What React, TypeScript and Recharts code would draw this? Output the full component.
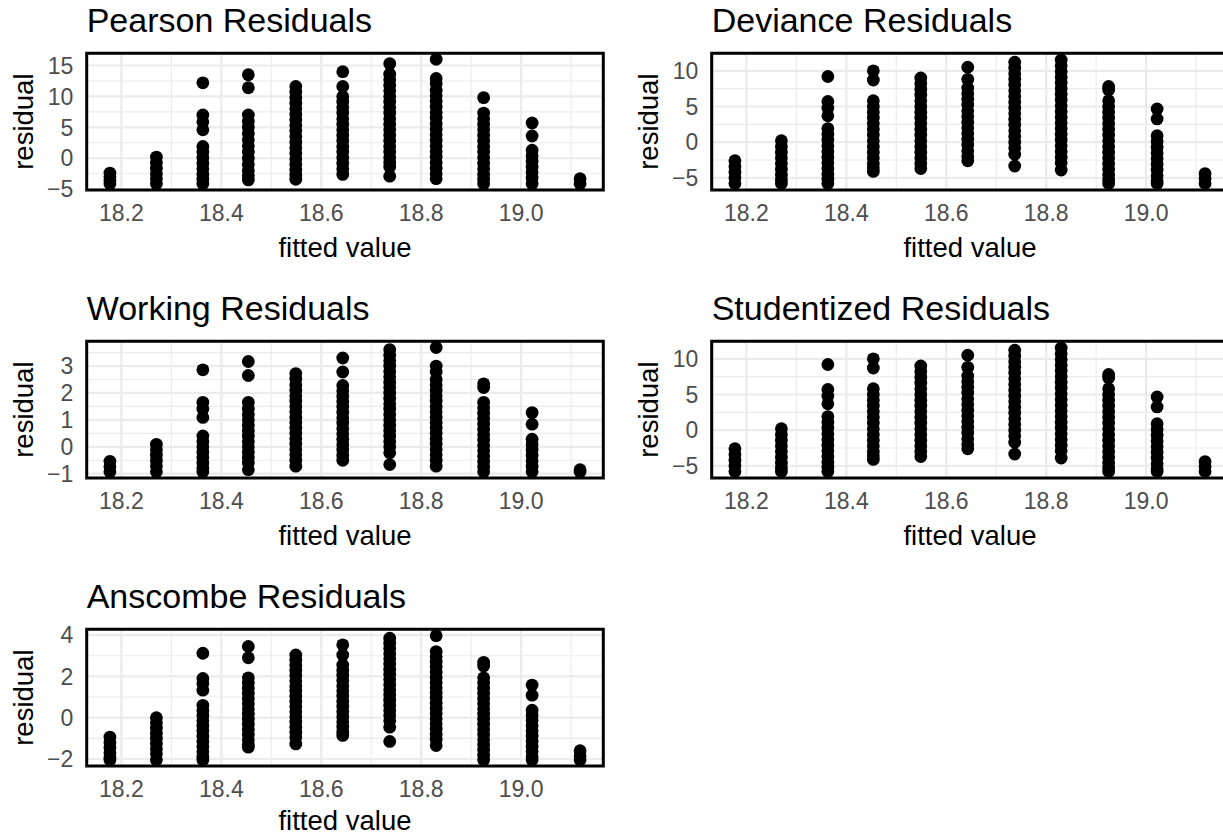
import React from 'react';
import { ScatterChart, Scatter, XAxis, YAxis, CartesianGrid, ReferenceLine, ReferenceArea } from 'recharts';

// fitted values (one column of points per value)
const fitted = [18.177, 18.27, 18.363, 18.454, 18.549, 18.643, 18.737, 18.83, 18.925, 19.022, 19.118];
const xTicks = [18.2, 18.4, 18.6, 18.8, 19.0];
const xMinor = [18.3, 18.5, 18.7, 18.9, 19.1];

// residuals per fitted-value column
const pearson: number[][] = [
  [-2.4, -3.0, -3.6, -4.1],
  [0.2, -0.7, -1.6, -2.5, -3.3, -4.1],
  [12.2, 7.0, 5.9, 4.6, 1.9, 1.0, 0.1, -0.8, -1.7, -2.6, -3.4, -4.1],
  [13.5, 11.4, 7.0, 6.0, 5.0, 4.0, 3.0, 2.0, 1.0, 0.0, -1.0, -2.0, -2.8, -3.5],
  [11.6, 10.7, 9.8, 8.9, 8.0, 7.1, 6.2, 5.3, 4.4, 3.5, 2.6, 1.7, 0.8, -0.1, -1.0, -1.9, -2.7, -3.4],
  [14.0, 11.6, 10.0, 9.1, 8.2, 7.3, 6.4, 5.5, 4.6, 3.7, 2.8, 1.9, 1.0, 0.1, -0.8, -1.7, -2.6],
  [15.3, 13.6, 12.7, 11.8, 10.9, 10.0, 9.1, 8.2, 7.3, 6.4, 5.5, 4.6, 3.7, 2.8, 1.9, 1.0, 0.1, -0.7, -1.4, -2.9],
  [16.0, 12.9, 12.1, 11.0, 10.1, 9.2, 8.3, 7.4, 6.5, 5.6, 4.7, 3.8, 2.9, 2.0, 1.1, 0.2, -0.7, -1.6, -2.5, -3.3],
  [9.8, 7.3, 6.4, 5.5, 4.6, 3.7, 2.8, 1.9, 1.0, 0.1, -0.8, -1.7, -2.6, -3.4, -4.1],
  [5.7, 3.6, 1.3, 0.4, -0.5, -1.4, -2.3, -3.2, -4.1],
  [-3.3, -4.1],
];

const deviance: number[][] = [
  [-2.6, -3.4, -4.2, -5.0, -5.8],
  [0.2, -0.6, -1.4, -2.2, -3.0, -3.8, -4.6, -5.3, -5.8],
  [9.2, 5.7, 4.8, 3.7, 1.9, 1.1, 0.3, -0.5, -1.3, -2.1, -2.9, -3.7, -4.5, -5.2, -5.8],
  [10.0, 8.7, 5.8, 5.0, 4.2, 3.4, 2.6, 1.8, 1.0, 0.2, -0.6, -1.4, -2.2, -3.0, -3.6, -4.1],
  [9.0, 8.2, 7.4, 6.6, 5.8, 5.0, 4.2, 3.4, 2.6, 1.8, 1.0, 0.2, -0.6, -1.4, -2.2, -3.0, -3.7],
  [10.5, 8.8, 7.6, 6.8, 6.0, 5.2, 4.4, 3.6, 2.8, 2.0, 1.2, 0.4, -0.4, -1.2, -2.0, -2.6],
  [11.2, 10.4, 9.6, 8.8, 8.0, 7.2, 6.4, 5.6, 4.8, 4.0, 3.2, 2.4, 1.6, 0.8, 0.0, -0.8, -1.7, -3.35],
  [11.5, 10.7, 9.9, 9.1, 8.3, 7.5, 6.7, 5.9, 5.1, 4.3, 3.5, 2.7, 1.9, 1.1, 0.3, -0.5, -1.3, -2.1, -2.9, -3.9],
  [7.8, 7.3, 5.8, 5.0, 4.2, 3.4, 2.6, 1.8, 1.0, 0.2, -0.6, -1.4, -2.2, -3.0, -3.8, -4.6, -5.3, -5.8],
  [4.65, 3.26, 0.9, 0.1, -0.7, -1.5, -2.3, -3.1, -3.9, -4.7, -5.4, -5.8],
  [-4.4, -5.1, -5.8],
];

const working: number[][] = [
  [-0.54, -0.74, -0.93],
  [0.09, -0.11, -0.31, -0.51, -0.71, -0.93],
  [2.86, 1.65, 1.4, 1.09, 0.4, 0.2, 0.0, -0.2, -0.4, -0.6, -0.8, -0.93],
  [3.17, 2.65, 1.65, 1.4, 1.2, 1.0, 0.8, 0.6, 0.4, 0.2, 0.0, -0.2, -0.4, -0.6, -0.85],
  [2.72, 2.52, 2.3, 2.1, 1.9, 1.7, 1.5, 1.3, 1.1, 0.9, 0.7, 0.5, 0.3, 0.1, -0.1, -0.3, -0.5, -0.72],
  [3.3, 2.78, 2.28, 2.08, 1.88, 1.68, 1.48, 1.28, 1.08, 0.88, 0.68, 0.48, 0.28, 0.08, -0.12, -0.32, -0.5],
  [3.61, 3.4, 3.2, 3.0, 2.8, 2.6, 2.4, 2.2, 2.0, 1.8, 1.6, 1.4, 1.2, 1.0, 0.8, 0.6, 0.4, 0.2, 0.0, -0.22, -0.66],
  [3.69, 3.0, 2.78, 2.5, 2.3, 2.1, 1.9, 1.7, 1.5, 1.3, 1.1, 0.9, 0.7, 0.5, 0.3, 0.1, -0.1, -0.3, -0.5, -0.72],
  [2.34, 2.2, 1.65, 1.45, 1.25, 1.05, 0.85, 0.65, 0.45, 0.25, 0.05, -0.15, -0.35, -0.55, -0.75, -0.93],
  [1.27, 0.84, 0.28, 0.08, -0.12, -0.32, -0.52, -0.72, -0.93],
  [-0.85, -0.93],
];

// studentized panel reads the same as the deviance one
const studentized: number[][] = deviance;

const anscombe: number[][] = [
  [-0.94, -1.2, -1.45, -1.7, -1.95, -2.04],
  [0.0, -0.25, -0.5, -0.75, -1.0, -1.25, -1.5, -1.75, -2.04],
  [3.12, 1.9, 1.66, 1.33, 0.6, 0.35, 0.1, -0.15, -0.4, -0.65, -0.9, -1.15, -1.4, -1.65, -1.9, -2.04],
  [3.45, 2.9, 1.93, 1.68, 1.43, 1.18, 0.93, 0.68, 0.43, 0.18, -0.07, -0.32, -0.57, -0.82, -1.07, -1.3, -1.43],
  [3.04, 2.79, 2.54, 2.29, 2.04, 1.79, 1.54, 1.29, 1.04, 0.79, 0.54, 0.29, 0.04, -0.21, -0.46, -0.71, -0.96, -1.27],
  [3.53, 3.04, 2.55, 2.3, 2.05, 1.8, 1.55, 1.3, 1.05, 0.8, 0.55, 0.3, 0.05, -0.2, -0.45, -0.7, -0.86],
  [3.85, 3.6, 3.35, 3.1, 2.85, 2.6, 2.35, 2.1, 1.85, 1.6, 1.35, 1.1, 0.85, 0.6, 0.35, 0.1, -0.15, -0.46, -1.15],
  [3.97, 3.2, 2.95, 2.7, 2.45, 2.2, 1.95, 1.7, 1.45, 1.2, 0.95, 0.7, 0.45, 0.2, -0.05, -0.3, -0.55, -0.8, -1.05, -1.35],
  [2.68, 2.5, 1.93, 1.68, 1.43, 1.18, 0.93, 0.68, 0.43, 0.18, -0.07, -0.32, -0.57, -0.82, -1.07, -1.32, -1.57, -1.82, -2.04],
  [1.58, 1.09, 0.36, 0.11, -0.14, -0.39, -0.64, -0.89, -1.14, -1.39, -1.64, -1.89, -2.04],
  [-1.6, -1.85, -2.04],
];

const FONT = '"Liberation Sans", Arial, Helvetica, sans-serif';
const CELL_W = 625;
const CELL_H = 288;

// ggplot default 5% expansion around the fitted range
const xDomain: [number, number] = [18.1305, 19.1645];

const fmtY = (v: number) => (v < 0 ? '\u2212' + Math.abs(v) : String(v));

interface PanelProps {
  title: string;
  cols: number[][];
  yDomain: [number, number];
  yTicks: number[];
  yMinor: number[];
  col: number;
  row: number;
  labelLift?: number;
}

const Panel: React.FC<PanelProps> = ({ title, cols, yDomain, yTicks, yMinor, col, row, labelLift = 0 }) => {
  const points = cols.flatMap((ys, i) => ys.map((y) => ({ x: fitted[i], y })));
  return (
    <div style={{ position: 'absolute', left: col * CELL_W, top: row * CELL_H, width: CELL_W, height: CELL_H }}>
      <svg width={CELL_W} height={50} style={{ position: 'absolute', left: 0, top: 0 }}>
        <text x={86.7} y={32} fontSize={34} fill="#000" fontFamily={FONT}>
          {title}
        </text>
      </svg>
      <ScatterChart width={CELL_W} height={CELL_H} margin={{ top: 53.3, right: 21.7, bottom: 31.5, left: 0 }}>
        <CartesianGrid stroke="#ebebeb" strokeWidth={2.2} />
        {xMinor.map((v) => (
          <ReferenceLine key={'x' + v} x={v} stroke="#ebebeb" strokeWidth={1.1} zIndex={-50} />
        ))}
        {yMinor.map((v) => (
          <ReferenceLine key={'y' + v} y={v} stroke="#ebebeb" strokeWidth={1.1} zIndex={-50} />
        ))}
        <XAxis
          type="number"
          dataKey="x"
          domain={xDomain}
          ticks={xTicks}
          interval={0}
          allowDataOverflow
          axisLine={false}
          tickLine={false}
          tickSize={8}
          tickMargin={7}
          height={66.5}
          tick={{ fontSize: 23, fill: '#4d4d4d' }}
          tickFormatter={(v: number) => v.toFixed(1)}
          label={{ value: 'fitted value', position: 'insideBottom', offset: labelLift, fontSize: 27.5, fill: '#000' }}
        />
        <YAxis
          type="number"
          dataKey="y"
          domain={yDomain}
          ticks={yTicks}
          interval={0}
          allowDataOverflow
          axisLine={false}
          tickLine={false}
          tickSize={6}
          tickMargin={7.4}
          width={86.7}
          tick={{ fontSize: 23, fill: '#4d4d4d' }}
          tickFormatter={fmtY}
          label={{
            value: 'residual',
            angle: -90,
            position: 'insideLeft',
            offset: 23,
            fontSize: 27.5,
            fill: '#000',
            style: { textAnchor: 'middle' },
          }}
        />
        <Scatter
          data={points}
          isAnimationActive={false}
          shape={(p: any) => <circle cx={p.cx} cy={p.cy} r={6.4} fill="#000" />}
        />
        <ReferenceArea
          x1={xDomain[0]}
          x2={xDomain[1]}
          y1={yDomain[0]}
          y2={yDomain[1]}
          fill="none"
          stroke="#000"
          strokeWidth={3}
          ifOverflow="visible"
          zIndex={1000}
        />
      </ScatterChart>
    </div>
  );
};

export default function App() {
  return (
    <div
      style={{
        position: 'absolute',
        left: 0,
        top: 0,
        width: 1223,
        height: 836,
        overflow: 'hidden',
        background: '#fff',
        fontFamily: FONT,
      }}
    >
      <Panel title="Pearson Residuals" cols={pearson} yDomain={[-5.13, 16.97]} yTicks={[-5, 0, 5, 10, 15]} yMinor={[-2.5, 2.5, 7.5, 12.5]} col={0} row={0} />
      <Panel title="Deviance Residuals" cols={deviance} yDomain={[-6.7, 12.45]} yTicks={[-5, 0, 5, 10]} yMinor={[-2.5, 2.5, 7.5]} col={1} row={0} />
      <Panel title="Working Residuals" cols={working} yDomain={[-1.16, 3.92]} yTicks={[-1, 0, 1, 2, 3]} yMinor={[-0.5, 0.5, 1.5, 2.5, 3.5]} col={0} row={1} />
      <Panel title="Studentized Residuals" cols={studentized} yDomain={[-6.7, 12.45]} yTicks={[-5, 0, 5, 10]} yMinor={[-2.5, 2.5, 7.5]} col={1} row={1} />
      <Panel title="Anscombe Residuals" cols={anscombe} yDomain={[-2.34, 4.28]} yTicks={[-2, 0, 2, 4]} yMinor={[-1, 1, 3]} col={0} row={2} labelLift={3} />
    </div>
  );
}
